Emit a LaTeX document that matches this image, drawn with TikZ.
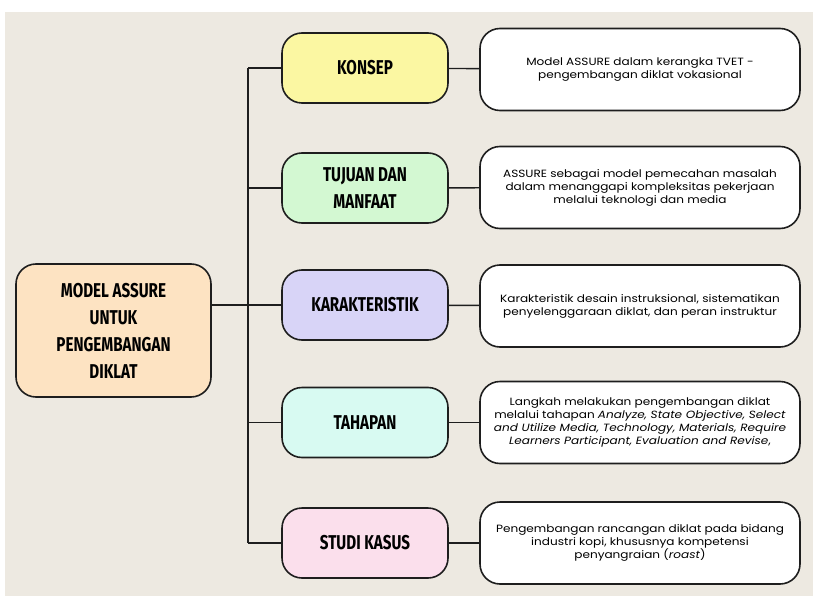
\documentclass[tikz,border=0pt]{standalone}
\usepackage{fontspec}
\setmainfont{Poppins}[FakeStretch=1.15]
\newfontfamily\headfont[FakeStretch=0.76]{Fira Sans}
\usepackage{tikz}
\usetikzlibrary{positioning}

\definecolor{paper}{HTML}{EDE9E1}
\definecolor{ink}{HTML}{1E1E1E}
\definecolor{cKonsep}{HTML}{FBF7A2}
\definecolor{cTujuan}{HTML}{D3F8D2}
\definecolor{cKarak}{HTML}{D8D4F7}
\definecolor{cTahap}{HTML}{D8FAF2}
\definecolor{cStudi}{HTML}{FBDFEC}
\definecolor{cRoot}{HTML}{FDE3C2}

\tikzset{
	topic/.style={draw=ink, line width=1.6pt, rounded corners=20pt, align=center,
		minimum width=166pt, minimum height=70pt, inner sep=0pt,
		font=\headfont\bfseries\fontsize{20}{27}\selectfont},
	note/.style={draw=ink, fill=white, line width=1.6pt, rounded corners=20pt, align=center,
		minimum width=320pt, minimum height=82pt, inner sep=0pt,
		font=\fontsize{10.5}{13}\selectfont},
	link/.style={draw=ink, line width=1.4pt}
}

\begin{document}
\begin{tikzpicture}[x=1pt,y=-1pt]
	\useasboundingbox (0,0) rectangle (813,596);
	\fill[paper] (5,12) rectangle (813,596);

	% main topic
	\node[topic, fill=cRoot, minimum width=195pt, minimum height=133pt] (assure) at (113.5,330.5)
		{MODEL ASSURE\\UNTUK\\PENGEMBANGAN\\DIKLAT};

	% sub topics
	\node[topic, fill=cKonsep] (konsep) at (365,68) {KONSEP};
	\node[topic, fill=cTujuan] (tujuan) at (365,188) {TUJUAN DAN\\MANFAAT};
	\node[topic, fill=cKarak] (karak) at (365,305) {KARAKTERISTIK};
	\node[topic, fill=cTahap] (tahap) at (365,422.5) {TAHAPAN};
	\node[topic, fill=cStudi] (studi) at (365,543) {STUDI KASUS};

	% descriptions
	\node[note] (nKonsep) at (640,69.5) {Model ASSURE dalam kerangka TVET -\\pengembangan diklat vokasional};
	\node[note] (nTujuan) at (640,187.5) {ASSURE sebagai model pemecahan masalah\\dalam menanggapi kompleksitas pekerjaan\\melalui teknologi dan media};
	\node[note] (nKarak) at (640,306) {Karakteristik desain instruksional, sistematikan\\penyelenggaraan diklat, dan peran instruktur};
	\node[note] (nTahap) at (640,422.5) {Langkah melakukan pengembangan diklat\\melalui tahapan \textit{Analyze, State Objective, Select}\\\textit{and Utilize Media, Technology, Materials, Require}\\\textit{Learners Participant, Evaluation and Revise},};
	\node[note] (nStudi) at (640,543) {Pengembangan rancangan diklat pada bidang\\industri kopi, khususnya kompetensi\\penyangraian (\textit{roast})};

	% trunk
	\coordinate (trunk) at (248,0);
	\draw[link] (konsep.west -| trunk) -- (studi.west -| trunk);
	\draw[link] (assure.east |- karak.west) -- (karak.west);
	\foreach \t in {konsep,tujuan,tahap,studi}
		\draw[link] (\t.west -| trunk) -- (\t.west);

	% topic to description
	\draw[link] (konsep) -- (nKonsep);
	\draw[link] (tujuan) -- (nTujuan);
	\draw[link] (karak) -- (nKarak);
	\draw[link] (tahap) -- (nTahap);
	\draw[link] (studi) -- (nStudi);
\end{tikzpicture}
\end{document}
